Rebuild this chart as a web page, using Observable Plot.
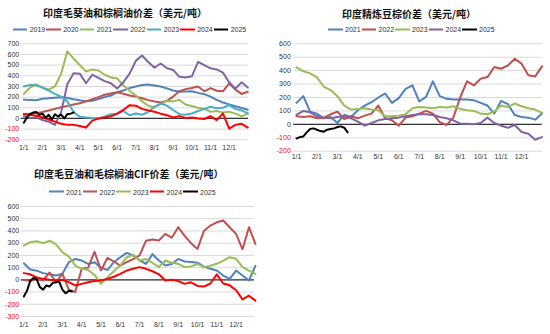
<!DOCTYPE html>
<html><head><meta charset="utf-8">
<script src="https://cdn.jsdelivr.net/npm/d3@7"></script>
<script src="https://cdn.jsdelivr.net/npm/@observablehq/plot@0.6"></script>
<style>
body{margin:0;background:#fff;}
#root{position:relative;width:550px;height:334px;overflow:hidden;background:#fff;font-family:"Liberation Sans",Arial,"Noto Sans CJK SC",sans-serif;}
.title{position:absolute;font-weight:bold;font-size:10px;color:#111;white-space:nowrap;transform:translate(-50%,-50%);font-family:"Noto Sans CJK SC","Liberation Sans",sans-serif;}
.legend{position:absolute;display:flex;font-size:7px;color:#333;transform:translateY(-50%);}
.item{display:flex;align-items:center;width:33.5px;}
.sw{width:14.5px;height:2px;margin-right:2.5px;}
#root svg{position:absolute;}
</style></head><body><div id="root"></div><script>
// ---------- tick labels ----------
const monthLabels = ["1/1","2/1","3/1","4/1","5/1","6/1","7/1","8/1","9/1","10/1","11/1","12/1"];

// ---------- Panel 1: 印度毛葵油和棕榈油价差 (values every 1/3 month; 2025 every 1/6 month) ----------
const p1Years = ["2019","2020","2021","2022","2023","2024","2025"];
const p1_2019 = [178,172,170,184,190,195,198,192,180,170, 162,165,182,200,215,245,262,285,300,313, 318,310,300,282,262,250,252,255,240,228, 205,175,150,132,115,98,82];
const p1_2020 = [40,45,50,60,75,90,105,118,130,142, 160,180,200,222,235,245,232,215,205,190, 172,160,150,165,205,255,275,285,300,255, 285,260,255,330,270,230,250];
const p1_2021 = [230,290,320,290,270,300,420,630,560,500, 440,460,450,410,385,375,310,260,215,160, 120,105,135,165,160,175,130,117,100,90, 63,70,55,63,45,20,45];
const p1_2022 = [20,5,10,-15,-30,-60,60,320,425,420, 330,410,380,350,330,280,340,420,540,590, 530,475,515,470,455,390,385,395,530,500, 470,460,430,340,280,340,290];
const p1_2023 = [300,315,310,290,260,230,205,160,60,15, 10,5,0,20,40,45,70,30,47,35, 60,110,140,120,79,40,35,47,70,90, 110,95,100,126,90,75,47];
const p1_2024 = [40,35,25,10,-10,-30,-50,-60,-60,-70, -85,-20,0,10,20,45,80,125,120,90, 75,63,45,30,10,22,5,10,0,-5, 22,-16,47,-95,-60,-50,-85];
const p1_2025 = [-40,10,40,55,60,35,45,5,35,-10,40,20,35,0,40,45,55];

// ---------- Panel 2: 印度精炼豆棕价差 ----------
const p2Years = ["2021","2022","2023","2024","2025"];
const p2_2021 = [160,210,95,80,45,55,10,70,55,105, 140,165,200,230,160,195,265,290,170,205, 320,210,190,185,185,185,180,160,140,80, 175,150,70,55,50,35,80];
const p2_2022 = [60,55,60,45,50,75,95,40,60,45, 65,80,140,45,30,-10,50,60,80,100, 80,17,-5,50,200,320,290,340,352,427, 414,439,489,452,365,357,432];
const p2_2023 = [425,395,380,350,280,255,210,140,110,115, 120,110,105,60,60,65,75,120,130,125, 120,130,125,135,115,105,100,80,75,95, 140,130,155,135,120,110,85];
const p2_2024 = [70,100,90,60,50,45,55,60,45,20, -10,10,30,40,45,50,60,70,75,75, 70,55,45,30,5,5,0,10,50,10, -10,-25,-5,-57,-70,-115,-95];
const p2_2025 = [-105,-95,-90,-60,-35,-30,-40,-50,-55,-40,-35,-30,-20,-15,-25,-60];

// ---------- Panel 3: 印度毛豆油和毛棕榈油CIF价差 ----------
const p3Years = ["2021","2022","2023","2024","2025"];
const p3_2021 = [135,85,75,55,45,35,50,144,171,158, 130,144,100,80,144,185,220,199,160,130, 210,158,117,130,171,150,145,140,108,90, 76,35,8,76,35,-5,115];
const p3_2022 = [0,-10,10,-5,60,-20,50,-80,-100,90, 100,230,76,180,150,117,144,170,200,320, 330,322,376,345,431,360,300,253,400,444, 471,485,430,376,250,431,294];
const p3_2023 = [280,308,316,300,320,290,226,190,117,90, 80,40,-33,20,70,117,185,205,158,170, 140,104,158,140,131,104,110,131,104,115, 131,158,185,172,104,76,49];
const p3_2024 = [55,45,20,8,0,-5,0,-19,-46,-33, -20,-10,-5,8,25,49,76,90,104,90, 70,45,-5,0,-10,-33,-20,-50,-55,-30, 45,-30,-45,-85,-160,-130,-170];
const p3_2025 = [-136,-90,-10,15,5,-60,-80,-46,-55,-25,-20,-15,-80,-110,-90,-95];

const C = {blue:"#4F81BD", brown:"#C0504D", green:"#9BBB59", purple:"#8064A2", cyan:"#4BACC6", red:"#FF0000", black:"#000000"};
const FULL = 1/3, SHORT = 1/6;

const panels = [
  {title:"印度毛葵油和棕榈油价差（美元/吨）", tx:125, ty:12.3, lx:12.7, ly:29,
   left:0, top:0, width:255, height:160, gridLeft:20.7, gridRight:248, x0px:23.3, ppm:18.67,
   yTopPx:43.3, yBotPx:139.3, yMin:-200, yMax:700, xPad:5, yPad:2,
   series:[
     {name:p1Years[0], values:p1_2019, step:FULL, color:C.blue},
     {name:p1Years[1], values:p1_2020, step:FULL, color:C.brown},
     {name:p1Years[2], values:p1_2021, step:FULL, color:C.green},
     {name:p1Years[3], values:p1_2022, step:FULL, color:C.purple},
     {name:p1Years[4], values:p1_2023, step:FULL, color:C.cyan},
     {name:p1Years[5], values:p1_2024, step:FULL, color:C.red},
     {name:p1Years[6], values:p1_2025, step:SHORT, color:C.black}]},
  {title:"印度精炼豆棕价差（美元/吨）", tx:409, ty:12.5, lx:328, ly:29,
   left:275, top:0, width:275, height:170, gridLeft:293.3, gridRight:541.7, x0px:296, ppm:20.46,
   yTopPx:43.3, yBotPx:150.7, yMin:-200, yMax:600, xPad:3, yPad:3,
   series:[
     {name:p2Years[0], values:p2_2021, step:FULL, color:C.blue},
     {name:p2Years[1], values:p2_2022, step:FULL, color:C.brown},
     {name:p2Years[2], values:p2_2023, step:FULL, color:C.green},
     {name:p2Years[3], values:p2_2024, step:FULL, color:C.purple},
     {name:p2Years[4], values:p2_2025, step:SHORT, color:C.black}]},
  {title:"印度毛豆油和毛棕榈油CIF价差（美元/吨）", tx:128.7, ty:173.3, lx:49, ly:191.7,
   left:0, top:180, width:260, height:154, gridLeft:20.7, gridRight:254, x0px:23.3, ppm:19.3,
   yTopPx:206, yBotPx:316, yMin:-300, yMax:600, xPad:5.5, yPad:2,
   series:[
     {name:p3Years[0], values:p3_2021, step:FULL, color:C.blue},
     {name:p3Years[1], values:p3_2022, step:FULL, color:C.brown},
     {name:p3Years[2], values:p3_2023, step:FULL, color:C.green},
     {name:p3Years[3], values:p3_2024, step:FULL, color:C.red},
     {name:p3Years[4], values:p3_2025, step:SHORT, color:C.black}]}
];

const root = document.getElementById("root");

for (const cfg of panels) {
  const W = cfg.width, H = cfg.height;
  const ticks = d3.range(cfg.yMin, cfg.yMax + 1, 100);
  const lines = cfg.series.map(s =>
    Plot.line(s.values.map((v, i) => ({m: i * s.step, v})),
      {x: "m", y: "v", stroke: s.color, strokeWidth: 2, strokeLinejoin: "round"}));
  const svg = Plot.plot({
    width: W, height: H,
    marginLeft: cfg.gridLeft - cfg.left,
    marginRight: cfg.left + W - cfg.gridRight,
    marginTop: cfg.yTopPx - cfg.top,
    marginBottom: cfg.top + H - cfg.yBotPx,
    style: {fontSize: "7px", fontFamily: "'Liberation Sans', Arial, sans-serif", background: "transparent", color: "#333", overflow: "visible"},
    x: {domain: [(cfg.gridLeft - cfg.x0px) / cfg.ppm, (cfg.gridRight - cfg.x0px) / cfg.ppm], label: null},
    y: {domain: [cfg.yMin, cfg.yMax], label: null},
    marks: [
      Plot.gridY(ticks, {stroke: "#d9d9d9", strokeOpacity: 1, strokeWidth: 1}),
      Plot.ruleY([0], {stroke: "#333", strokeWidth: 1.2}),
      ...lines,
      Plot.axisY(ticks.filter(t => t >= 0), {tickSize: 0, tickPadding: cfg.yPad, tickFormat: d => String(d), fill: "#333", label: null}),
      Plot.axisY(ticks.filter(t => t < 0), {tickSize: 0, tickPadding: cfg.yPad, tickFormat: d => String(d), fill: "#FF0000", label: null}),
      Plot.axisX(d3.range(12), {tickSize: 0, tickPadding: cfg.xPad, tickFormat: i => monthLabels[i], fill: "#333", label: null})
    ]
  });
  svg.style.left = cfg.left + "px";
  svg.style.top = cfg.top + "px";
  root.appendChild(svg);

  const t = document.createElement("div");
  t.className = "title";
  t.textContent = cfg.title;
  t.style.left = cfg.tx + "px";
  t.style.top = cfg.ty + "px";
  root.appendChild(t);

  const lg = document.createElement("div");
  lg.className = "legend";
  lg.style.left = cfg.lx + "px";
  lg.style.top = cfg.ly + "px";
  for (const s of cfg.series) {
    const it = document.createElement("div");
    it.className = "item";
    const sw = document.createElement("span");
    sw.className = "sw";
    sw.style.background = s.color;
    const tx = document.createElement("span");
    tx.textContent = s.name;
    it.appendChild(sw); it.appendChild(tx);
    lg.appendChild(it);
  }
  root.appendChild(lg);
}
</script></body></html>
